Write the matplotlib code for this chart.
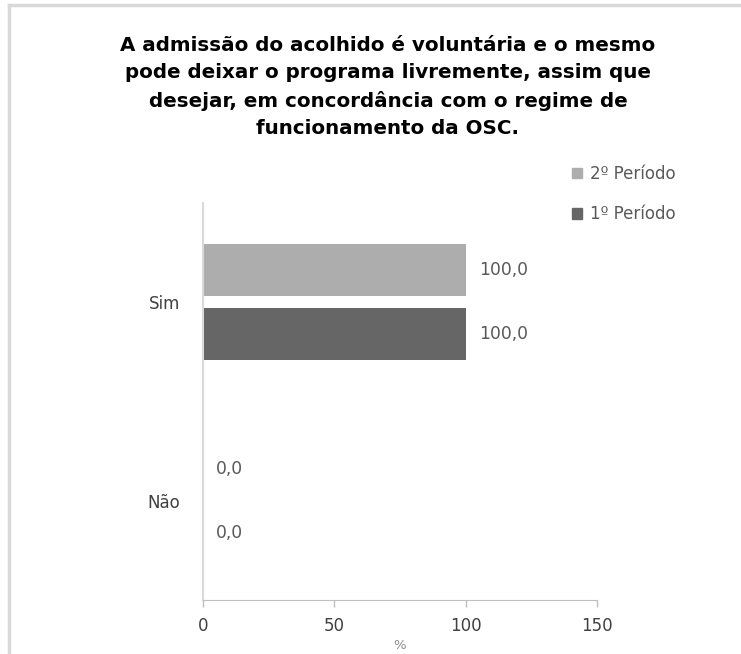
import matplotlib
matplotlib.use("Agg")
import matplotlib.pyplot as plt
from matplotlib.patches import Patch
import numpy as np

categories = ["Não", "Sim"]
periodo1 = [0.0, 100.0]
periodo2 = [0.0, 100.0]
series_names = ["1º Período", "2º Período"]
xticks = [0, 50, 100, 150]
title = ("A admissão do acolhido é voluntária e o mesmo\n"
         "pode deixar o programa livremente, assim que\n"
         "desejar, em concordância com o regime de\n"
         "funcionamento da OSC.")

c1 = "#666666"
c2 = "#adadad"

plt.rcParams['font.family'] = ['DejaVu Sans']

fig = plt.figure(figsize=(7.41, 6.54), dpi=100)
# frame border (top and left)
fig.add_artist(plt.Line2D([9/741, 1], [1-5/654, 1-5/654], color="#d9d9d9", lw=2.5, transform=fig.transFigure))
fig.add_artist(plt.Line2D([9/741, 9/741], [0, 1-5/654], color="#d9d9d9", lw=2.5, transform=fig.transFigure))

ax = fig.add_axes([203/741, 1-600/654, (597-203)/741, (600-203)/654])
y = np.arange(len(categories))
h = 0.26
off = 0.161
ax.barh(y - off, periodo1, height=h, color=c1, label=series_names[0])
ax.barh(y + off, periodo2, height=h, color=c2, label=series_names[1])

for yi, v in zip(y - off, periodo1):
    ax.text(v + 5, yi, f"{v:.1f}".replace(".", ","), va="center", ha="left",
            fontsize=12.3, color="#595959")
for yi, v in zip(y + off, periodo2):
    ax.text(v + 5, yi, f"{v:.1f}".replace(".", ","), va="center", ha="left",
            fontsize=12.3, color="#595959")

ax.set_xlim(0, 150)
ax.set_ylim(-0.5, 1.5)
ax.set_xticks(xticks)
ax.set_xticklabels([str(t) for t in xticks], fontsize=12, color="#404040")
ax.set_yticks(y)
ax.set_yticklabels(categories, fontsize=12, color="#404040")
ax.tick_params(axis="y", length=0, pad=16.5)
ax.tick_params(axis="x", length=5, width=1, color="#bfbfbf", pad=7, direction="out")
for s in ["top", "right"]:
    ax.spines[s].set_visible(False)
ax.spines["bottom"].set_color("#bfbfbf")
ax.spines["left"].set_color("#d9d9d9")
ax.spines["left"].set_linewidth(1.5)
ax.set_xlabel("%", fontsize=9.5, color="#8c8c8c", labelpad=3)

fig.text(388/741, 1 - 36/654, title, ha="center", va="top",
         fontsize=14.3, fontweight="bold", linespacing=1.55, color="#000000")

handles = [Patch(color=c2), Patch(color=c1)]
leg = fig.legend(handles, [series_names[1], series_names[0]], loc="upper left",
                 bbox_to_anchor=(557/741, 1-150/654), frameon=False,
                 fontsize=12, handlelength=0.6, handleheight=0.6, handletextpad=0.45,
                 labelspacing=1.35, labelcolor="#595959")

fig.savefig("out.png", dpi=100, facecolor="white")
